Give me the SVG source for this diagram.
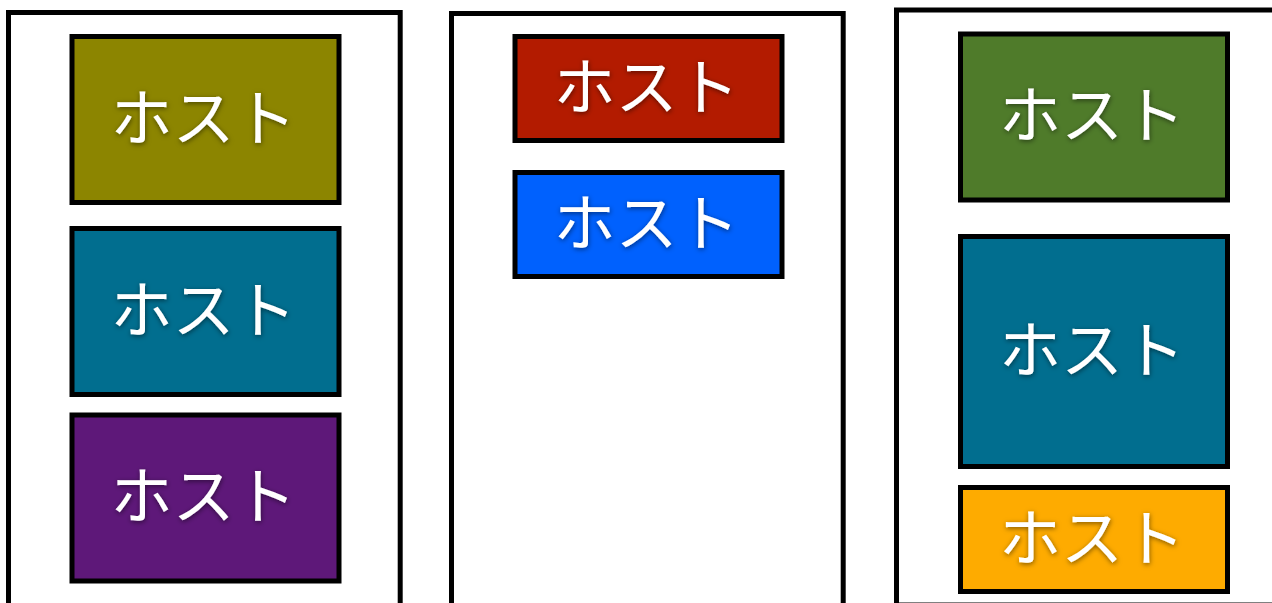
<svg xmlns="http://www.w3.org/2000/svg" width="1272" height="603" viewBox="0 0 1272 603">
  <defs>
    <filter id="ts" x="-20%" y="-30%" width="140%" height="160%">
      <feDropShadow dx="0.5" dy="1.5" stdDeviation="2.5" flood-color="#000" flood-opacity="0.5"/>
    </filter>
  </defs>
  <style>
    .container { fill: #ffffff; stroke: #000000; stroke-width: 5; }
    .host { stroke: #000000; stroke-width: 5; }
    .label { fill: #ffffff; font-family: "Noto Sans CJK JP", "Noto Sans", sans-serif; font-size: 62px; font-weight: 400; text-anchor: middle; dominant-baseline: central; filter: url(#ts); }
  </style>
  <rect width="1272" height="603" fill="#ffffff"/>
  <g id="container-left">
    <rect class="container" x="8.5" y="12.5" width="391.7" height="600"/>
  </g>
  <g id="container-middle">
    <rect class="container" x="451.5" y="13.5" width="391.7" height="600"/>
  </g>
  <g id="container-right">
    <rect class="container" x="896.5" y="10" width="390" height="595"/>
  </g>
  <g id="host-left-1">
    <rect class="host" x="72" y="36.5" width="267" height="166" fill="#8C8500"/>
    <text class="label" x="203.5" y="113.5">ホスト</text>
  </g>
  <g id="host-left-2">
    <rect class="host" x="72" y="228.5" width="267" height="166" fill="#016E8F"/>
    <text class="label" x="203.5" y="305.5">ホスト</text>
  </g>
  <g id="host-left-3">
    <rect class="host" x="72" y="415" width="267" height="166" fill="#5E1879"/>
    <text class="label" x="203.5" y="492">ホスト</text>
  </g>
  <g id="host-middle-1">
    <rect class="host" x="515" y="36.5" width="267" height="104" fill="#B31B00"/>
    <text class="label" x="646.5" y="83">ホスト</text>
  </g>
  <g id="host-middle-2">
    <rect class="host" x="515" y="172.5" width="267" height="104" fill="#0061FE"/>
    <text class="label" x="646.5" y="219">ホスト</text>
  </g>
  <g id="host-right-1">
    <rect class="host" x="960.5" y="34" width="267" height="166" fill="#4F7B2A"/>
    <text class="label" x="1092" y="111">ホスト</text>
  </g>
  <g id="host-right-2">
    <rect class="host" x="960.5" y="236.5" width="267" height="230" fill="#016E8F"/>
    <text class="label" x="1092" y="345.5">ホスト</text>
  </g>
  <g id="host-right-3">
    <rect class="host" x="960.5" y="487.5" width="267" height="104" fill="#FEAB00"/>
    <text class="label" x="1092" y="534">ホスト</text>
  </g>
  <g id="connectors"/>
</svg>
